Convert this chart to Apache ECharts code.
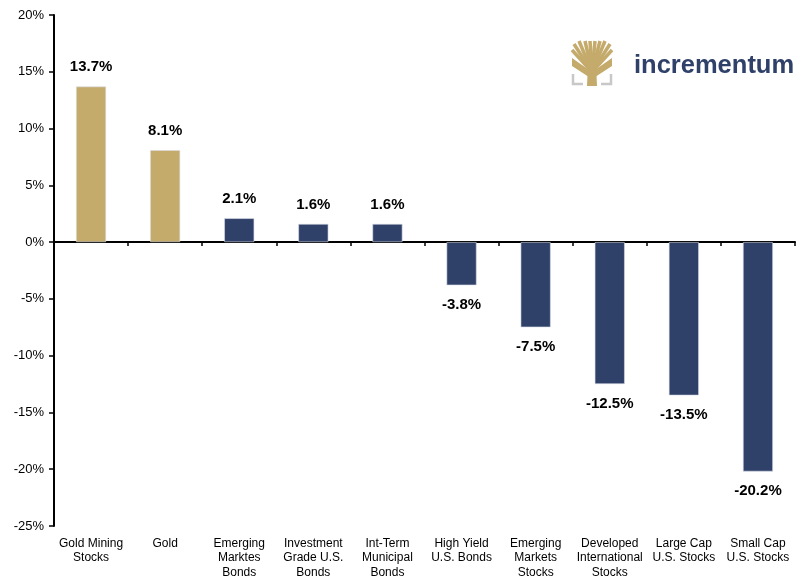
<!DOCTYPE html>
<html>
<head>
<meta charset="utf-8">
<script src="https://cdn.jsdelivr.net/npm/echarts@6/dist/echarts.min.js"></script>
<style>
  html, body { margin: 0; padding: 0; background: #fff; }
  #chart { width: 802px; height: 576px; }
</style>
</head>
<body>
<div id="chart"></div>
<script>
// data
const categories = [
    'Gold Mining\nStocks', 'Gold', 'Emerging\nMarktes\nBonds', 'Investment\nGrade U.S.\nBonds',
    'Int-Term\nMunicipal\nBonds', 'High Yield\nU.S. Bonds', 'Emerging\nMarkets\nStocks',
    'Developed\nInternational\nStocks', 'Large Cap\nU.S. Stocks', 'Small Cap\nU.S. Stocks'
];
const returns = [13.7, 8.1, 2.1, 1.6, 1.6, -3.8, -7.5, -12.5, -13.5, -20.2];
const isGold = [true, true, false, false, false, false, false, false, false, false];
const yMin = -25, yMax = 20, yStep = 5;

const GOLD = '#c4aa6b';
const NAVY = '#2f4069';

const chart = echarts.init(document.getElementById('chart'));

const barData = returns.map((v, i) => ({
    value: v,
    itemStyle: { color: isGold[i] ? GOLD : NAVY },
    label: { position: v >= 0 ? 'top' : 'bottom' }
}));

// logo: tree icon drawn with simple strokes, plus the word mark
const branchTips = [[572, 50], [574, 44], [579, 41], [585, 41], [590, 41], [595, 41], [600, 41], [605, 41], [610, 44], [612, 50]];
const logo = [];
branchTips.forEach(([x, y]) => {
    logo.push({
        type: 'line', shape: { x1: 592, y1: 72, x2: x, y2: y },
        style: { stroke: GOLD, lineWidth: 3.5 }
    });
});
logo.push(
    { type: 'polygon', shape: { points: [[587, 86], [597, 86], [596, 64], [588, 64]] }, style: { fill: GOLD } },
    { type: 'polygon', shape: { points: [[572, 58], [592, 72], [612, 58], [612, 66], [592, 79], [572, 66]] }, style: { fill: GOLD } },
    { type: 'polyline', shape: { points: [[573, 74], [573, 84], [583, 84]] }, style: { stroke: '#c8c8c8', lineWidth: 2.5, fill: null } },
    { type: 'polyline', shape: { points: [[611, 74], [611, 84], [601, 84]] }, style: { stroke: '#c8c8c8', lineWidth: 2.5, fill: null } },
    {
        type: 'text', left: 634, top: 53,
        style: { text: 'incrementum', fill: NAVY, font: 'bold 25.5px "Liberation Sans", Arial, sans-serif' }
    }
);

chart.setOption({
    animation: false,
    textStyle: { fontFamily: '"Liberation Sans", Arial, sans-serif' },
    grid: { left: 54, right: 7, top: 15, bottom: 50, containLabel: false, outerBoundsMode: 'none' },
    xAxis: [
        {
            type: 'category',
            data: categories,
            axisLine: { onZero: true, lineStyle: { color: '#000', width: 2 } },
            axisTick: { show: true, interval: 0, inside: false, length: 4, lineStyle: { color: '#000', width: 1.5 } },
            axisLabel: { show: false },
            splitLine: { show: false }
        },
        {
            type: 'category',
            data: categories,
            position: 'bottom',
            axisLine: { show: false, onZero: false },
            axisTick: { show: false },
            axisLabel: { interval: 0, color: '#000', fontSize: 12, lineHeight: 14.5, margin: 10, verticalAlign: 'top' }
        }
    ],
    yAxis: {
        type: 'value',
        min: yMin,
        max: yMax,
        interval: yStep,
        axisLine: { show: true, lineStyle: { color: '#000', width: 2 } },
        axisTick: { show: true, length: 5, lineStyle: { color: '#000', width: 1.5 } },
        axisLabel: { color: '#000', fontSize: 13, margin: 10, formatter: (v) => `${v}%` },
        splitLine: { show: false }
    },
    series: [
        {
            type: 'bar',
            xAxisIndex: 0,
            data: barData,
            barWidth: 30,
            itemStyle: { borderColor: '#d8dce6', borderWidth: 0.6 },
            label: {
                show: true,
                distance: 12,
                color: '#000',
                fontSize: 15,
                fontWeight: 'bold',
                formatter: (p) => `${p.value.toFixed(1)}%`
            }
        }
    ],
    graphic: logo
});
</script>
</body>
</html>
